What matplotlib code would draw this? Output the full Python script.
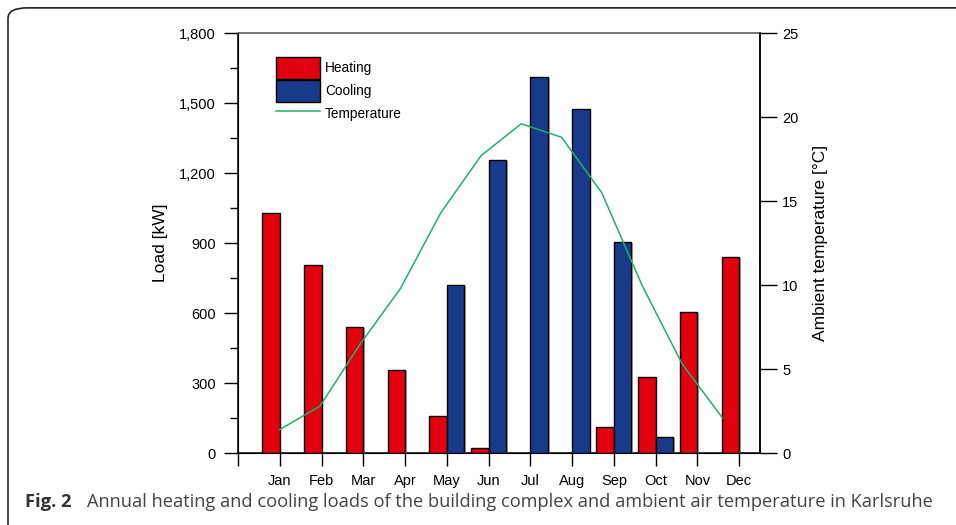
import numpy as np
import matplotlib
matplotlib.use("Agg")
import matplotlib.pyplot as plt
from matplotlib.patches import Patch, FancyBboxPatch
from matplotlib.lines import Line2D
from matplotlib.ticker import MultipleLocator, FuncFormatter
import matplotlib.patheffects as pe

# data
months = ["Jan", "Feb", "Mar", "Apr", "May", "Jun",
          "Jul", "Aug", "Sep", "Oct", "Nov", "Dec"]
heating = [1030, 805, 540, 355, 160, 20, 0, 0, 110, 325, 605, 840]
cooling = [0, 0, 0, 0, 720, 1255, 1610, 1475, 905, 67, 0, 0]
temperature = [1.4, 2.8, 6.5, 9.8, 14.3, 17.7, 19.6, 18.8, 15.5, 10.0, 5.3, 2.1]

RED = "#e2000f"
BLUE = "#173a8b"
GREEN = "#1fb26a"

plt.rcParams["font.family"] = ["Liberation Sans", "DejaVu Sans"]

fig = plt.figure(figsize=(9.56, 5.25), dpi=100)
ax = fig.add_axes([0.249, 0.137, 0.546, 0.8])

x = np.arange(1, 13)
w = 0.42
shadow = [pe.SimplePatchShadow(offset=(1.2, -0.6), shadow_rgbFace="#999999", alpha=0.8), pe.Normal()]
bh = ax.bar(x - w / 2, heating, w, color=RED, edgecolor="black", linewidth=1.0, zorder=3)
bc = ax.bar(x + w / 2, cooling, w, color=BLUE, edgecolor="black", linewidth=1.0, zorder=3)
for b in list(bh) + list(bc):
    if b.get_height() > 0:
        b.set_path_effects(shadow)
    else:
        b.set_visible(False)

ax.set_xlim(0, 12.5)
ax.set_ylim(0, 1800)
ax.set_xticks(np.arange(0, 13))
ax.set_xticklabels([""] + months)
ax.yaxis.set_major_locator(MultipleLocator(300))
ax.yaxis.set_minor_locator(MultipleLocator(150))
ax.yaxis.set_major_formatter(FuncFormatter(lambda v, p: f"{int(v):,}"))
ax.tick_params(axis="y", which="major", direction="out", length=10, width=1.0, pad=6, labelsize=10.5)
ax.tick_params(axis="y", which="minor", direction="out", length=6, width=1.0)
ax.tick_params(axis="x", direction="out", length=9, width=1.0, pad=6, labelsize=10.5)
ax.set_ylabel("Load [kW]", fontsize=12.5, labelpad=8)
ax.spines["top"].set_color("#777777")
ax.spines["top"].set_linewidth(1.4)
for s in ["left", "bottom", "right"]:
    ax.spines[s].set_linewidth(1.1)

ax2 = ax.twinx()
tx = np.linspace(1, 11.6, 12)
ax2.plot(tx, temperature, color=GREEN, linewidth=1.1, zorder=4)
ax2.set_ylim(0, 25)
ax2.yaxis.set_major_locator(MultipleLocator(5))
ax2.tick_params(axis="y", direction="out", length=12, width=1.0, pad=4, labelsize=10.5)
ax2.set_ylabel("Ambient temperature [°C]", fontsize=12.5, labelpad=10)
ax2.spines["right"].set_linewidth(1.1)
ax2.spines["top"].set_visible(False)

handles = [Patch(facecolor=RED, edgecolor="black"),
           Patch(facecolor=BLUE, edgecolor="black"),
           Line2D([], [], color=GREEN, linewidth=1.1)]
ax2.legend(handles, ["Heating", "Cooling", "Temperature"], loc="upper left",
           bbox_to_anchor=(0.06, 0.96), frameon=False, fontsize=9.8, borderpad=0,
           handlelength=3.2, handleheight=2.12, labelspacing=0.08, handletextpad=0.4)

# caption box
box = FancyBboxPatch((8 / 956, -0.05), 1.1, 1.035, transform=fig.transFigure,
                     boxstyle="round,pad=0,rounding_size=0.02", facecolor="none",
                     edgecolor="#222222", linewidth=1.2, clip_on=False)
fig.patches.append(box)
fig.text(25 / 956, 0.034, "Fig. 2", fontsize=13.2, fontweight="bold",
         family=["Open Sans", "DejaVu Sans"], color="#333333")
fig.text(87 / 956, 0.034, "Annual heating and cooling loads of the building complex and ambient air temperature in Karlsruhe",
         fontsize=13.15, family=["Open Sans", "DejaVu Sans"], color="#444444")

fig.savefig("out.png", dpi=100)
